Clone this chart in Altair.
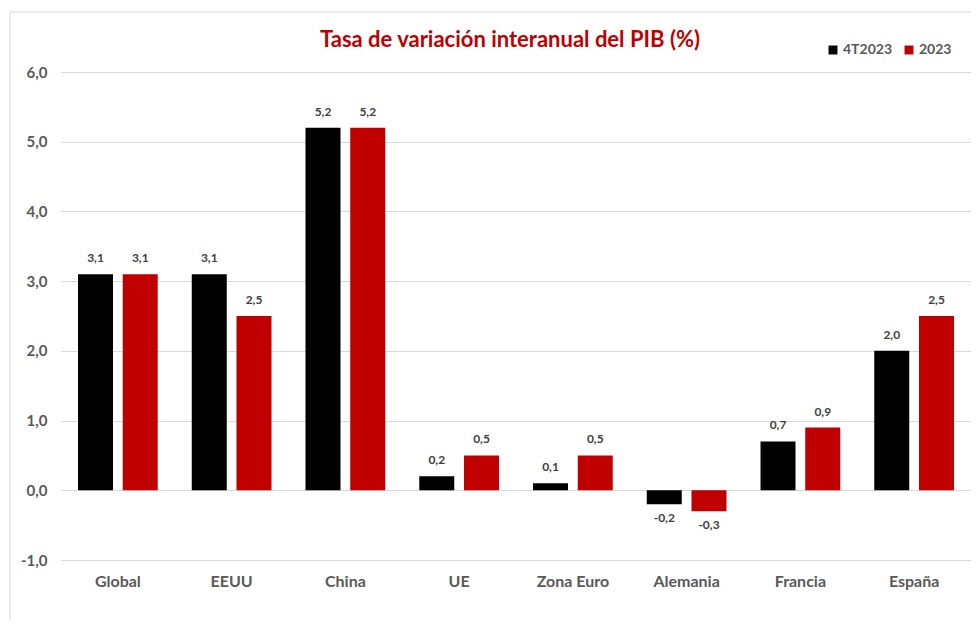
import altair as alt
import pandas as pd

categories = ["Global", "EEUU", "China", "UE", "Zona Euro", "Alemania", "Francia", "España"]
series_names = ["4T2023", "2023"]
values_4t2023 = [3.1, 3.1, 5.2, 0.2, 0.1, -0.2, 0.7, 2.0]
values_2023 = [3.1, 2.5, 5.2, 0.5, 0.5, -0.3, 0.9, 2.5]
colors = ["#000000", "#C00000"]
title_text = "Tasa de variación interanual del PIB (%)"

rows = []
for c, a, b in zip(categories, values_4t2023, values_2023):
    rows.append({"pais": c, "serie": series_names[0], "valor": a})
    rows.append({"pais": c, "serie": series_names[1], "valor": b})
df = pd.DataFrame(rows)
df["etiqueta"] = df["valor"].map(lambda v: f"{v:.1f}".replace(".", ","))

FONT = "Lato"
W, H = 910, 488

x = alt.X("pais:N", sort=categories, title=None,
          scale=alt.Scale(paddingInner=0.3, paddingOuter=0.15),
          axis=alt.Axis(labelAngle=0, labelFont=FONT, labelFontSize=16, labelFontWeight="bold",
                        labelColor="#595959", ticks=False, domain=False, labelPadding=13))
xo = alt.XOffset("serie:N", sort=series_names, scale=alt.Scale(paddingInner=0.22, paddingOuter=0))
y = alt.Y("valor:Q", title=None,
          scale=alt.Scale(domain=[-1, 6], nice=False, zero=False),
          axis=alt.Axis(values=[-1, 0, 1, 2, 3, 4, 5, 6],
                        labelExpr="replace(replace(format(datum.value, '.1f'), '.', ','), '\u2212', '-')",
                        labelFont=FONT, labelFontSize=15, labelFontWeight="bold", labelColor="#595959",
                        ticks=False, domain=False, gridColor="#D9D9D9", gridWidth=1, labelPadding=14))
color = alt.Color("serie:N", sort=series_names,
                  scale=alt.Scale(domain=series_names, range=colors),
                  legend=alt.Legend(title=None, orient="none", direction="horizontal",
                                    legendX=765, legendY=-29, symbolType="square", symbolSize=80,
                                    symbolStrokeWidth=0, labelFont=FONT, labelFontSize=14,
                                    labelFontWeight="bold", labelColor="#595959", columnPadding=10,
                                    labelOffset=3))

base = alt.Chart(df)

frame = alt.Chart(pd.DataFrame({"k": [0]})).mark_rect(fill=None, stroke="#D9D9D9", strokeWidth=1).encode(
    x=alt.value(-51), x2=alt.value(W + 20), y=alt.value(-60), y2=alt.value(H + 100))

title = alt.Chart(pd.DataFrame({"t": [title_text]})).mark_text(
    font=FONT, fontSize=22, fontWeight="bold", color="#C00000", align="center", baseline="middle").encode(
    x=alt.value(W / 2 - 6), y=alt.value(-32), text="t:N")

bars = base.mark_bar(size=35).encode(x=x, xOffset=xo, y=y, color=color)

pos = base.transform_filter("datum.valor >= 0").mark_text(
    dy=-9, baseline="bottom", font=FONT, fontSize=12, fontWeight="bold", color="#404040").encode(
    x=x, xOffset=xo, y=y, text="etiqueta:N")
neg = base.transform_filter("datum.valor < 0").mark_text(
    dy=9, baseline="top", font=FONT, fontSize=12, fontWeight="bold", color="#404040").encode(
    x=x, xOffset=xo, y=y, text="etiqueta:N")

chart = alt.layer(frame, title, bars, pos, neg).properties(
    width=W, height=H,
    autosize=alt.AutoSizeParams(type="none"),
    padding={"left": 53, "top": 64, "right": 0, "bottom": 60},
).configure_view(stroke=None)

chart.save("out.html", embed_options={"renderer": "svg", "actions": False})
